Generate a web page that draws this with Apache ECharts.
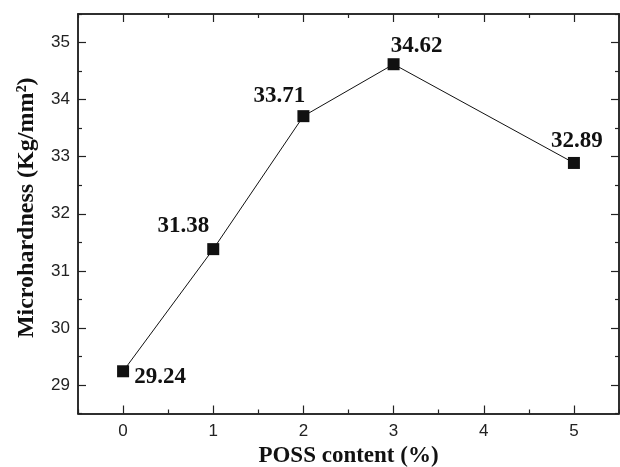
<!DOCTYPE html>
<html>
<head>
    <meta charset="utf-8">
    <title>Microhardness vs POSS content</title>
    <script src="https://cdn.jsdelivr.net/npm/echarts@6/dist/echarts.min.js"></script>
    <style>
        html, body { margin: 0; padding: 0; background: #fff; }
        #main { width: 620px; height: 467px; }
    </style>
</head>
<body>
<div id="main"></div>
<script>
    // data
    var poss = [0, 1, 2, 3, 5];
    var hardness = [29.24, 31.38, 33.71, 34.62, 32.89];
    var xTicks = [0, 1, 2, 3, 4, 5];
    var xMinor = [-0.5, 0.5, 1.5, 2.5, 3.5, 4.5, 5.5];
    var yTicks = [29, 30, 31, 32, 33, 34, 35];
    var yMinor = [28.5, 29.5, 30.5, 31.5, 32.5, 33.5, 34.5, 35.5];

    // where each value label sits relative to its marker
    var labelOffsets = [[37, 6], [-30, -23], [-24, -20], [23, -18], [3, -22]];

    var serif = '"Liberation Serif", "Times New Roman", serif';
    var sans = '"Liberation Sans", Arial, sans-serif';

    var points = poss.map(function (x, i) {
        return {
            value: [x, hardness[i]],
            label: { offset: labelOffsets[i] }
        };
    });

    function xAxis(pos, ticks, len, showLabel, name) {
        return {
            type: 'value', position: pos, min: -0.5, max: 5.5,
            name: name || '', nameLocation: 'middle', nameGap: 31,
            nameTextStyle: { fontFamily: serif, fontWeight: 'bold', fontSize: 23, color: '#111' },
            axisLine: { show: true, onZero: false, lineStyle: { color: '#222', width: 1.5 } },
            axisTick: { show: true, inside: true, length: len, customValues: ticks, lineStyle: { color: '#222', width: 1.2 } },
            axisLabel: { show: showLabel, customValues: ticks, margin: 9, fontFamily: sans, fontSize: 17, color: '#222' },
            splitLine: { show: false }
        };
    }

    function yAxis(pos, ticks, len, showLabel, name) {
        return {
            type: 'value', position: pos, min: 28.5, max: 35.5,
            name: name || '', nameLocation: 'middle', nameGap: 39,
            nameTextStyle: { fontFamily: serif, fontWeight: 'bold', fontSize: 24, color: '#111', padding: [0, 0, 0, 12] },
            axisLine: { show: true, onZero: false, lineStyle: { color: '#222', width: 1.5 } },
            axisTick: { show: true, inside: true, length: len, customValues: ticks, lineStyle: { color: '#222', width: 1.2 } },
            axisLabel: { show: showLabel, customValues: ticks, margin: 8, fontFamily: sans, fontSize: 17, color: '#222' },
            splitLine: { show: false }
        };
    }

    var myChart = echarts.init(document.getElementById('main'));

    var option = {
        animation: false,
        backgroundColor: '#fff',
        grid: { left: 78, right: 1, top: 14, bottom: 53.5, outerBoundsMode: 'none', containLabel: false },
        xAxis: [
            xAxis('bottom', xTicks, 8, true, 'POSS content (%)'),
            xAxis('bottom', xMinor, 4, false),
            xAxis('top', xTicks, 8, false),
            xAxis('top', xMinor, 4, false)
        ],
        yAxis: [
            yAxis('left', yTicks, 8, true, 'Microhardness (Kg/mm\u00B2)'),
            yAxis('left', yMinor, 4, false),
            yAxis('right', yTicks, 8, false),
            yAxis('right', yMinor, 4, false)
        ],
        series: [{
            type: 'line',
            data: points,
            symbol: 'rect',
            symbolSize: 12,
            itemStyle: { color: '#111' },
            lineStyle: { color: '#111', width: 1 },
            label: {
                show: true,
                position: 'inside',
                align: 'center',
                verticalAlign: 'middle',
                formatter: function (p) { return p.value[1].toFixed(2); },
                fontFamily: serif,
                fontWeight: 'bold',
                fontSize: 23,
                color: '#111'
            }
        }]
    };

    myChart.setOption(option);
</script>
</body>
</html>
